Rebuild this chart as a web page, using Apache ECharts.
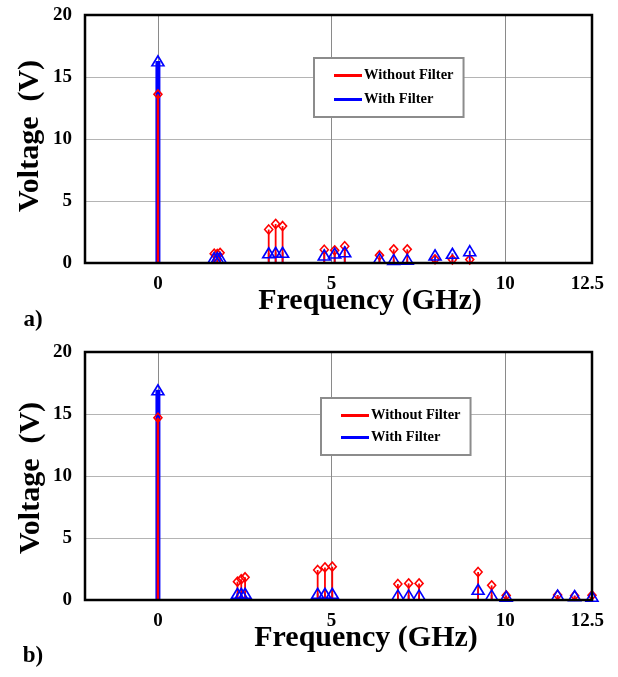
<!DOCTYPE html>
<html><head><meta charset="utf-8">
<script src="https://cdn.jsdelivr.net/npm/echarts@6/dist/echarts.min.js"></script>
<style>html,body{margin:0;padding:0;background:#fff}#c{width:618px;height:677px}</style>
</head><body><div id="c"></div><script>
// ---- data ----
const xTickLabels = [0, 5, 10, 12.5];
const xGridValues = [0, 5, 10];

const freqA    = [0, 1.62, 1.71, 1.79, 3.19, 3.39, 3.59, 4.79, 5.09, 5.38, 6.38, 6.79, 7.18, 7.98, 8.48, 8.98];
const withoutA = [13.6, 0.75, 0.72, 0.82, 2.7, 3.15, 2.98, 1.07, 1.02, 1.35, 0.62, 1.1, 1.1, 0.3, 0.28, 0.28];
const withA    = [16.3, 0.43, 0.43, 0.43, 0.82, 0.86, 0.86, 0.65, 0.8, 0.9, 0.38, 0.28, 0.3, 0.65, 0.78, 0.99];

const freqB    = [0, 2.29, 2.40, 2.51, 4.60, 4.81, 5.02, 6.91, 7.22, 7.52, 9.22, 9.61, 10.03, 11.51, 12.0, 12.5];
const withoutB = [14.7, 1.48, 1.67, 1.83, 2.42, 2.63, 2.69, 1.29, 1.34, 1.34, 2.26, 1.18, 0.37, 0.4, 0.35, 0.38];
const withB    = [16.95, 0.54, 0.54, 0.54, 0.54, 0.54, 0.54, 0.4, 0.4, 0.4, 0.86, 0.4, 0.3, 0.4, 0.35, 0.3];

const seriesNames = ['Without Filter', 'With Filter'];
const panelLabels = ['a)', 'b)'];
const xTitle = 'Frequency (GHz)';
const yTitle = 'Voltage  (V)';

// ---- styles ----
const RED = '#ff0000', BLUE = '#0000ff';
const FONT = '"Liberation Serif", "Times New Roman", serif';

const chart = echarts.init(document.getElementById('c'));

function pairs(xs, ys) { return xs.map((x, i) => [x, ys[i]]); }

function stems(name, xs, ys, color, g, thin, thick, z) {
  return {
    type: 'custom', name, xAxisIndex: g, yAxisIndex: g, z,
    itemStyle: { color }, clip: false,
    data: pairs(xs, ys),
    renderItem: (params, api) => {
      const x = api.value(0), y = api.value(1);
      const p0 = api.coord([x, 0]), p1 = api.coord([x, y]);
      return { type: 'line', shape: { x1: p0[0], y1: p0[1], x2: p1[0], y2: p1[1] },
        style: { stroke: color, lineWidth: y > 10 ? thick : thin } };
    }
  };
}
function markers(id, xs, ys, color, g, symbol, size, z) {
  return {
    type: 'scatter', name: id, xAxisIndex: g, yAxisIndex: g, z,
    symbol, symbolSize: size, clip: false,
    itemStyle: { color: 'rgba(0,0,0,0)', borderColor: color, borderWidth: 1.6, opacity: 1 },
    emphasis: { disabled: true },
    data: pairs(xs, ys)
  };
}

const grids = [
  { left: 85, top: 15, width: 507, height: 248 },
  { left: 85, top: 352, width: 507, height: 248 }
];

function xAxis(g) {
  return {
    type: 'value', gridIndex: g, min: -2.1, max: 12.5,
    axisLine: { show: false },
    axisTick: { show: false, customValues: xGridValues },
    axisLabel: { customValues: xTickLabels, margin: 12, color: '#000',
      fontFamily: FONT, fontWeight: 'bold', fontSize: 19,
      formatter: v => v === 12.5 ? '12.5  ' : String(v) },
    splitLine: { show: true, lineStyle: { color: '#8a8a8a', width: 1 } }
  };
}
function yAxis(g) {
  return {
    type: 'value', gridIndex: g, min: 0, max: 20, interval: 5,
    axisLine: { show: false }, axisTick: { show: false },
    axisLabel: { margin: 13, color: '#000', fontFamily: FONT, fontWeight: 'bold', fontSize: 19 },
    splitLine: { show: true, lineStyle: { color: '#b4b4b4', width: 1 } }
  };
}
function legend(left, top, gap) {
  return {
    left, top, orient: 'vertical', itemWidth: 28, itemHeight: 3, itemGap: gap,
    padding: [10, 10, 10, 20], borderColor: '#8c8c8c', borderWidth: 2, backgroundColor: '#fff',
    selectedMode: false,
    data: seriesNames.map(n => ({ name: n, icon: 'rect' })),
    textStyle: { fontFamily: FONT, fontWeight: 'bold', fontSize: 14.5, color: '#000', padding: [0, 0, 0, -3] }
  };
}
function text(t, x, y, size, rot) {
  return { type: 'text', x, y, rotation: rot || 0,
    style: { text: t, align: 'center', verticalAlign: 'middle', fill: '#000',
      font: 'bold ' + size + 'px ' + FONT } };
}

const series = [];
[[freqA, withoutA, withA], [freqB, withoutB, withB]].forEach((p, g) => {
  series.push(stems(seriesNames[1], p[0], p[2], BLUE, g, 1.8, 5, 2));
  series.push(stems(seriesNames[0], p[0], p[1], RED, g, 1.8, 2.4, 3));
  series.push(markers('mr' + g, p[0], p[1], RED, g, 'diamond', [8, 9], 4));
  series.push(markers('mb' + g, p[0], p[2], BLUE, g, 'triangle', [12, 10], 5));
});

chart.setOption({
  animation: false,
  backgroundColor: '#fff',
  grid: grids.map(g => Object.assign({ show: true, borderColor: '#000', borderWidth: 2.5,
    backgroundColor: 'transparent', z: 10 }, g)),
  xAxis: [xAxis(0), xAxis(1)],
  yAxis: [yAxis(0), yAxis(1)],
  legend: [legend(314, 58, 9), legend(321, 398, 7)],
  graphic: [
    text(xTitle, 370, 301, 30),
    text(xTitle, 366, 638, 30),
    text(panelLabels[0], 33, 320, 23),
    text(panelLabels[1], 33, 656, 23),
    text(yTitle, 30, 136, 30, Math.PI / 2),
    text(yTitle, 31, 478, 30, Math.PI / 2)
  ],
  series
});
</script></body></html>
